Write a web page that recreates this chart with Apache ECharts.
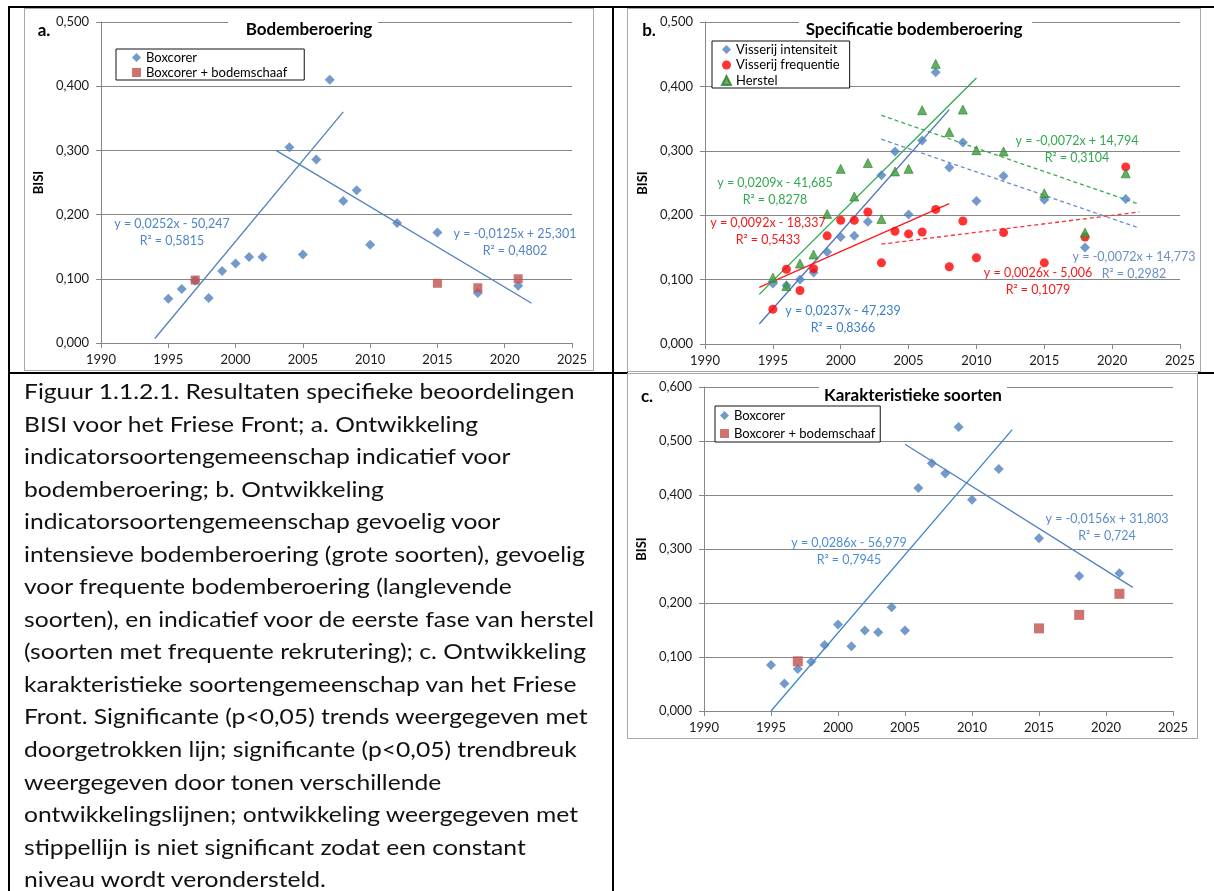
<!DOCTYPE html>
<html>
<head>
<meta charset="utf-8">
<script src="https://cdn.jsdelivr.net/npm/echarts@6/dist/echarts.min.js"></script>
<style>
html,body{margin:0;padding:0;background:#fff;}
body{width:1214px;height:891px;position:relative;overflow:hidden;}
.bline{position:absolute;background:#000;}
.chart{position:absolute;background:#fff;}
.frame{position:absolute;box-sizing:border-box;border:1px solid #a8a8a8;pointer-events:none;}
#caption{position:absolute;left:24px;top:375px;transform-origin:0 0;font-family:Lato,'Open Sans',sans-serif;font-weight:400;font-size:21px;line-height:32.55px;color:#111;white-space:nowrap;}
#caption span{display:inline-block;}
</style>
</head>
<body>
<div class="bline" style="left:8px;top:6px;width:1206px;height:2px;"></div>
<div class="bline" style="left:8px;top:6px;width:2px;height:885px;"></div>
<div class="bline" style="left:612px;top:6px;width:2px;height:885px;"></div>
<div class="bline" style="left:8px;top:372px;width:620px;height:2px;"></div>
<div class="bline" style="left:1198px;top:372px;width:16px;height:2px;"></div>

<div id="ca" class="chart" style="left:24px;top:8px;width:570px;height:363px;"></div>
<div class="frame" style="left:24px;top:8px;width:570px;height:363px;"></div>
<div id="cb" class="chart" style="left:627px;top:8px;width:574px;height:364px;"></div>
<div class="frame" style="left:627px;top:8px;width:574px;height:364px;"></div>
<div id="cc" class="chart" style="left:627px;top:373px;width:571px;height:366px;"></div>
<div class="frame" style="left:627px;top:373px;width:571px;height:366px;"></div>

<div id="caption"></div>

<script>
// ---------- DATA ----------
// Chart a: Bodemberoering
const yearsA_box = [1995,1996,1997,1998,1999,2000,2001,2002,2004,2005,2006,2007,2008,2009,2010,2012,2015,2018,2021];
const valsA_box  = [0.069,0.084,0.097,0.070,0.112,0.124,0.134,0.134,0.305,0.138,0.286,0.410,0.221,0.238,0.153,0.187,0.172,0.078,0.089];
const yearsA_schaaf = [1997,2015,2018,2021];
const valsA_schaaf  = [0.098,0.093,0.086,0.100];
const trendA_up   = [[1994,0.007],[2008,0.360]];
const trendA_down = [[2003,0.300],[2022,0.062]];
const eqA_up   = 'y = 0,0252x - 50,247\nR² = 0,5815';
const eqA_down = 'y = -0,0125x + 25,301\nR² = 0,4802';

// Chart b: Specificatie bodemberoering
const yearsB = [1995,1996,1997,1998,1999,2000,2001,2002,2003,2004,2005,2006,2007,2008,2009,2010,2012,2015,2018,2021];
const valsB_intensiteit = [0.094,0.091,0.100,0.111,0.143,0.166,0.168,0.190,0.262,0.299,0.201,0.316,0.422,0.274,0.313,0.222,0.261,0.224,0.150,0.225];
const valsB_frequentie  = [0.054,0.116,0.083,0.117,0.168,0.192,0.192,0.205,0.126,0.175,0.171,0.174,0.209,0.120,0.191,0.134,0.173,0.126,0.166,0.275];
const valsB_herstel     = [0.103,0.090,0.125,0.139,0.202,0.272,0.229,0.281,0.194,0.268,0.272,0.363,0.435,0.329,0.364,0.301,0.299,0.234,0.173,0.265];
const trendB_herstelUp   = [[1994,0.077],[2010,0.413]];
const trendB_intensUp    = [[1994,0.031],[2008,0.364]];
const trendB_freqUp      = [[1994,0.088],[2008,0.218]];
const trendB_herstelDown = [[2003,0.355],[2022,0.217]];
const trendB_intensDown  = [[2003,0.318],[2022,0.180]];
const trendB_freqFlat    = [[2003,0.155],[2022,0.205]];
const eqB_herstelUp   = 'y = 0,0209x - 41,685\nR² = 0,8278';
const eqB_freqUp      = 'y = 0,0092x - 18,337\nR² = 0,5433';
const eqB_intensUp    = 'y = 0,0237x - 47,239\nR² = 0,8366';
const eqB_herstelDown = 'y = -0,0072x + 14,794\nR² = 0,3104';
const eqB_freqFlat    = 'y = 0,0026x - 5,006\nR² = 0,1079';
const eqB_intensDown  = 'y = -0,0072x + 14,773\nR² = 0,2982';

// Chart c: Karakteristieke soorten
const yearsC_box = [1995,1996,1997,1998,1999,2000,2001,2002,2003,2004,2005,2006,2007,2008,2009,2010,2012,2015,2018,2021];
const valsC_box  = [0.085,0.051,0.078,0.091,0.122,0.160,0.120,0.149,0.146,0.192,0.149,0.413,0.459,0.440,0.526,0.391,0.448,0.320,0.250,0.255];
const yearsC_schaaf = [1997,2015,2018,2021];
const valsC_schaaf  = [0.092,0.153,0.178,0.217];
const trendC_up   = [[1995,0.000],[2013,0.521]];
const trendC_down = [[2005,0.494],[2022,0.229]];
const eqC_up   = 'y = 0,0286x - 56,979\nR² = 0,7945';
const eqC_down = 'y = -0,0156x + 31,803\nR² = 0,724';

const xTicks = [1990,1995,2000,2005,2010,2015,2020,2025];

const captionLines = [
 'Figuur 1.1.2.1. Resultaten specifieke beoordelingen',
 'BISI voor het Friese Front; a. Ontwikkeling',
 'indicatorsoortengemeenschap indicatief voor',
 'bodemberoering; b. Ontwikkeling',
 'indicatorsoortengemeenschap gevoelig voor',
 'intensieve bodemberoering (grote soorten), gevoelig',
 'voor frequente bodemberoering (langlevende',
 'soorten), en indicatief voor de eerste fase van herstel',
 '(soorten met frequente rekrutering); c. Ontwikkeling',
 'karakteristieke soortengemeenschap van het Friese',
 'Front. Significante (p<0,05) trends weergegeven met',
 'doorgetrokken lijn; significante (p<0,05) trendbreuk',
 'weergegeven door tonen verschillende',
 'ontwikkelingslijnen; ontwikkeling weergegeven met',
 'stippellijn is niet significant zodat een constant',
 'niveau wordt verondersteld.'
];

// ---------- HELPERS ----------
const F = 'Lato, "Open Sans", sans-serif';
const pairs = (xs, ys) => xs.map((x, i) => [x, ys[i]]);
const fmtY = v => v.toFixed(3).replace('.', ',');
const AXC = '#868686';

function axes(grid, ymax, nameGap) {
  return {
    grid: grid,
    xAxis: {
      type: 'value', min: xTicks[0], max: xTicks[xTicks.length-1], interval: 5,
      axisLine: {show: true, onZero: false, lineStyle: {color: AXC, width: 1}},
      axisTick: {show: true, length: 5, lineStyle: {color: AXC}},
      axisLabel: {color: '#1a1a1a', fontSize: 13, fontFamily: F, margin: 10, formatter: v => String(v)},
      splitLine: {show: false}
    },
    yAxis: {
      type: 'value', min: 0, max: ymax, interval: 0.1,
      name: 'BISI', nameLocation: 'middle', nameGap: nameGap,
      nameTextStyle: {fontWeight: 'bold', fontSize: 13, color: '#000', fontFamily: F},
      axisLine: {show: true, lineStyle: {color: AXC, width: 1}},
      axisTick: {show: true, length: 5, lineStyle: {color: AXC}},
      axisLabel: {color: '#1a1a1a', fontSize: 13, fontFamily: F, margin: 12, formatter: fmtY},
      splitLine: {show: true, lineStyle: {color: AXC, width: 1}}
    }
  };
}
function scatter(name, data, symbol, size, color, border) {
  return {name: name, type: 'scatter', data: data, symbol: symbol, symbolSize: size, z: 4,
    itemStyle: {color: color, borderColor: border || color, borderWidth: border ? 0.8 : 0}};
}
function trend(data, color, dashed) {
  return {type: 'line', data: data, showSymbol: false, silent: true, z: 3,
    lineStyle: {color: color, width: 1.3, type: dashed ? [4, 3] : 'solid'}};
}
function eq(text, x, y, color) {
  return {type: 'text', z: 50, style: {text: text, x: x, y: y, align: 'center', verticalAlign: 'top',
    lineHeight: 17, fill: color, font: '12.5px ' + F}};
}
function titleG(text, cx, cy, gapL, gapR, letter, lx) {
  return [
    {type: 'rect', z: 40, shape: {x: gapL, y: 4, width: gapR - gapL, height: 30}, style: {fill: '#fff'}},
    {type: 'text', z: 50, style: {text: text, x: cx, y: cy, align: 'center', verticalAlign: 'middle',
      fill: '#000', font: 'bold 17px ' + F}},
    {type: 'text', z: 50, style: {text: letter, x: lx, y: cy + 1, align: 'center', verticalAlign: 'middle',
      fill: '#000', font: 'bold 17px ' + F}}
  ];
}
function legend(names, icons, left, top, padding, gap) {
  return {
    show: true, orient: 'vertical', left: left, top: top, padding: padding, itemGap: gap,
    itemWidth: 9, itemHeight: 9, backgroundColor: '#fff', borderColor: '#111', borderWidth: 1,
    selectedMode: false, z: 45,
    textStyle: {fontSize: 13, fontFamily: F, color: '#000', lineHeight: 15},
    data: names.map((n, i) => ({name: n, icon: icons[i]}))
  };
}

// ---------- CHART A ----------
const BLUE = '#4F81BD', DRED = '#C0504D';
const chA = echarts.init(document.getElementById('ca'));
chA.setOption(Object.assign(axes({left: 76, top: 14, width: 472, height: 321}, 0.5, 50), {
  animation: false,
  legend: legend(['Boxcorer', 'Boxcorer + bodemschaaf'], ['diamond', 'rect'], 92, 41, [1, 17, 0, 16], 0),
  series: [
    scatter('Boxcorer', pairs(yearsA_box, valsA_box), 'diamond', 10, BLUE),
    scatter('Boxcorer + bodemschaaf', pairs(yearsA_schaaf, valsA_schaaf), 'rect', 9, DRED),
    trend(trendA_up, '#4F81BD', false),
    trend(trendA_down, '#4F81BD', false)
  ],
  graphic: [].concat(
    titleG('Bodemberoering', 285, 22, 204, 354, 'a.', 20),
    [eq(eqA_up, 148, 207, '#4F86C6'), eq(eqA_down, 491, 217, '#4F86C6')]
  )
}));

// ---------- CHART B ----------
const GREEN = '#3A9E3A', RED = '#FF0000';
const chB = echarts.init(document.getElementById('cb'));
chB.setOption(Object.assign(axes({left: 78, top: 14, width: 475, height: 322}, 0.5, 48), {
  animation: false,
  legend: legend(['Visserij intensiteit', 'Visserij frequentie', 'Herstel'], ['diamond', 'circle', 'triangle'], 85, 33, [1, 10, 0, 9], 0.5),
  series: [
    scatter('Visserij intensiteit', pairs(yearsB, valsB_intensiteit), 'diamond', 10, BLUE),
    scatter('Visserij frequentie', pairs(yearsB, valsB_frequentie), 'circle', 9, RED),
    scatter('Herstel', pairs(yearsB, valsB_herstel), 'triangle', 9, GREEN, '#2E7D2E'),
    trend(trendB_herstelUp, '#2EAA4A', false),
    trend(trendB_intensUp, '#4A6FBA', false),
    trend(trendB_freqUp, '#FF1A1A', false),
    trend(trendB_herstelDown, '#3BAA55', true),
    trend(trendB_intensDown, '#6A8CD0', true),
    trend(trendB_freqFlat, '#FF3030', true)
  ],
  graphic: [].concat(
    titleG('Specificatie bodemberoering', 287, 22, 172, 405, 'b.', 22),
    [
      eq(eqB_herstelUp, 148, 166, '#33A852'),
      eq(eqB_freqUp, 141, 206, '#F21A1A'),
      eq(eqB_intensUp, 216, 294, '#3A7FC8'),
      eq(eqB_herstelDown, 450, 124, '#33A852'),
      eq(eqB_freqFlat, 411, 256, '#F21A1A'),
      eq(eqB_intensDown, 507, 240, '#6B8FC4')
    ]
  )
}));

// ---------- CHART C ----------
const chC = echarts.init(document.getElementById('cc'));
chC.setOption(Object.assign(axes({left: 74, top: 14, width: 472, height: 324}, 0.6, 51), {
  animation: false,
  legend: legend(['Boxcorer', 'Boxcorer + bodemschaaf'], ['diamond', 'rect'], 88, 33, [2, 5, 1, 5], 3),
  series: [
    scatter('Boxcorer', pairs(yearsC_box, valsC_box), 'diamond', 10, BLUE),
    scatter('Boxcorer + bodemschaaf', pairs(yearsC_schaaf, valsC_schaaf), 'rect', 10, DRED),
    trend(trendC_up, '#3C86CC', false),
    trend(trendC_down, '#4F81BD', false)
  ],
  graphic: [].concat(
    titleG('Karakteristieke soorten', 286, 23, 192, 380, 'c.', 20),
    [eq(eqC_up, 222, 161, '#4A8FD4'), eq(eqC_down, 480, 137, '#5B8DC9')]
  )
}));

// ---------- CAPTION ----------
const cap = document.getElementById('caption');
captionLines.forEach(t => {
  const d = document.createElement('div');
  const s = document.createElement('span');
  s.textContent = t;
  d.appendChild(s);
  cap.appendChild(d);
});
function fitCaption() {
  cap.style.transform = 'none';
  let m = 0;
  cap.querySelectorAll('span').forEach(s => { m = Math.max(m, s.getBoundingClientRect().width); });
  if (m > 0) cap.style.transform = 'scaleX(' + (570 / m) + ')';
}
fitCaption();
if (document.fonts && document.fonts.ready) document.fonts.ready.then(fitCaption);
</script>
</body>
</html>
